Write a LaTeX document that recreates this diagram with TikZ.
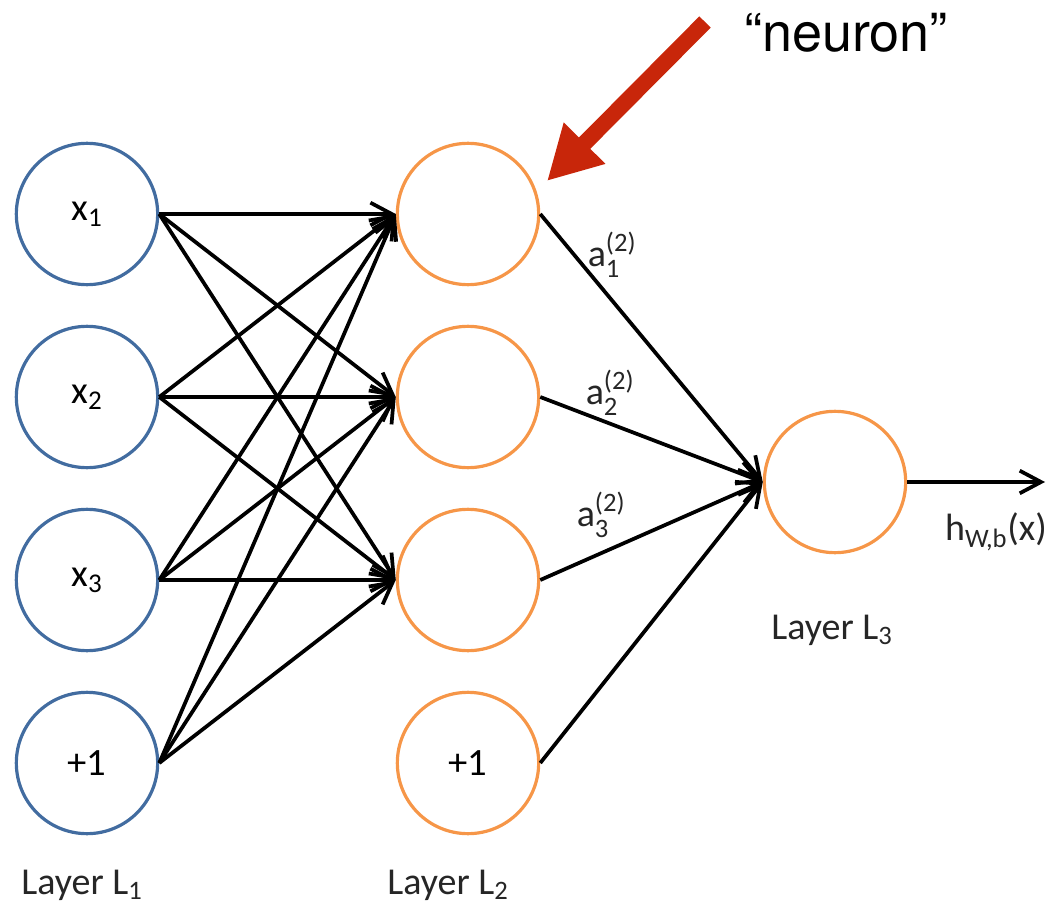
\documentclass[tikz,border=0pt]{standalone}
\usepackage{amsmath}
\usepackage{fontspec}
\setmainfont{Carlito}
\newfontfamily\headfont{TeX Gyre Heros}
\usetikzlibrary{arrows.meta}
\definecolor{inblue}{RGB}{66,108,160}
\definecolor{hidorange}{RGB}{246,150,72}
\definecolor{markred}{RGB}{200,38,10}

\begin{document}
\begin{tikzpicture}[x=0.75pt,y=0.75pt,yscale=-1,xscale=1,
  unit/.style={circle,line width=2.4pt,minimum size=106pt,inner sep=0pt,font=\fontsize{29}{34}\selectfont},
  inunit/.style={unit,draw=inblue},
  hidunit/.style={unit,draw=hidorange},
  link/.style={line width=2.8pt,-{Straight Barb[length=16pt,width=17pt]}},
  lbl/.style={inner sep=0.75pt,text=black!85,font=\fontsize{28.5}{34}\selectfont}]
\useasboundingbox (0,0) rectangle (1064,909);

%Shape: Circle, layer 1
\node [inunit] (x1) at (87,214) {$\text{x}_{\text{1}}$};
\node [inunit] (x2) at (87,397) {$\text{x}_{\text{2}}$};
\node [inunit] (x3) at (87,580) {$\text{x}_{\text{3}}$};
\node [inunit] (b1) at (87,763) {+1};
%Shape: Circle, layer 2
\node [hidunit] (h1) at (468,214) {};
\node [hidunit] (h2) at (468,397) {};
\node [hidunit] (h3) at (468,580) {};
\node [hidunit] (b2) at (468,763) {+1};
%Shape: Circle, layer 3
\node [hidunit] (out) at (835,482) {};

%Straight Lines
\foreach \i in {x1,x2,x3,b1}
  \foreach \j in {h1,h2,h3}
    \draw [link] (\i.east) -- (\j.west);
\foreach \i in {h1,h2,h3,b2}
  \draw [link] (\i.east) -- (out.west);
\coordinate (hx) at (1045,482);
\draw [link] (out.east) -- (hx);

% Text Node
\node [lbl] (a1) at (612,255) {$\text{a}_{\text{1}}^{\text{(2)}}$};
% Text Node
\node [lbl] (a2) at (610,393) {$\text{a}_{\text{2}}^{\text{(2)}}$};
% Text Node
\node [lbl] (a3) at (601,515) {$\text{a}_{\text{3}}^{\text{(2)}}$};
% Text Node
\node [lbl] (hout) at (996,532) {$\text{h}_{\text{W,b}}\text{(x)}$};
% Text Node
\node [lbl] (lay1) at (82,885) {Layer $\text{L}_{\text{1}}$};
% Text Node
\node [lbl] (lay2) at (448,885) {Layer $\text{L}_{\text{2}}$};
% Text Node
\node [lbl] (lay3) at (832,630) {Layer $\text{L}_{\text{3}}$};

% Text Node
\node [anchor=base,inner sep=0pt,font=\headfont\fontsize{40.5}{48}\selectfont] (neuron) at (846,52) {“neuron”};
%Straight Lines
\coordinate (tail) at (705,22);
\coordinate (tip) at (547,181);
\draw [markred,line width=12pt,-{Triangle[length=40pt,width=41pt]}] (tail) -- (tip);

\end{tikzpicture}
\end{document}
